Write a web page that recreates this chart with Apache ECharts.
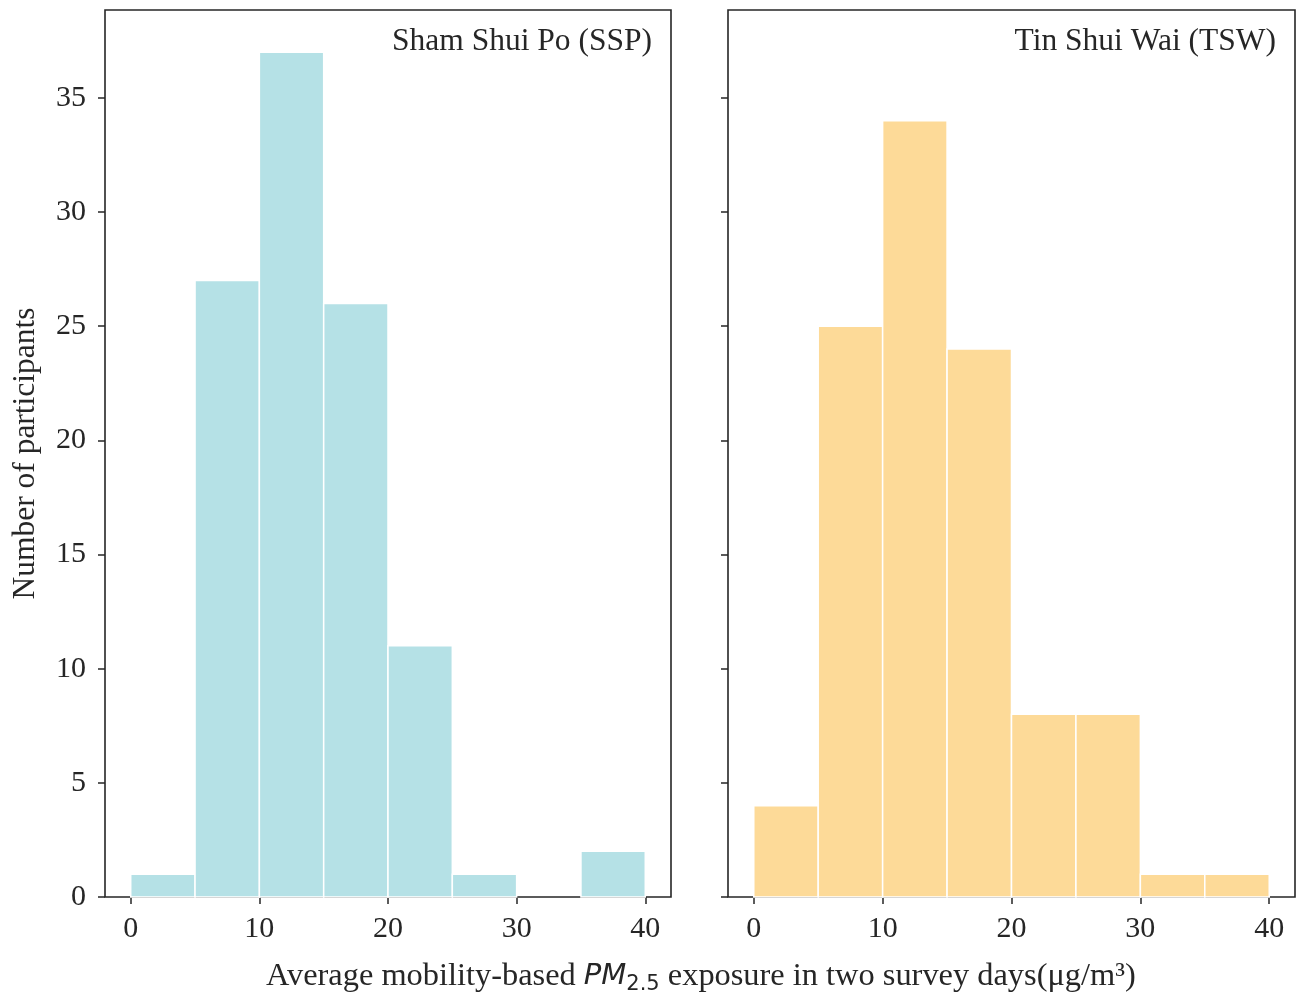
<!DOCTYPE html>
<html>
<head>
<meta charset="utf-8">
<style>
  html, body { margin: 0; padding: 0; background: #fff; }
  #chart { width: 1302px; height: 993px; }
</style>
<script src="https://cdn.jsdelivr.net/npm/echarts@6/dist/echarts.min.js"></script>
</head>
<body>
<div id="chart"></div>
<script>
// bin edges (5 units wide) and counts per panel
var binStarts = [0, 5, 10, 15, 20, 25, 30, 35];
var binWidth = 5;
var ssp = [1, 27, 37, 26, 11, 1, 0, 2];
var tsw = [4, 25, 34, 24, 8, 8, 1, 1];
var yTicks = [0, 5, 10, 15, 20, 25, 30, 35];
var xTicks = [0, 10, 20, 30, 40];
var panelNames = ['Sham Shui Po (SSP)', 'Tin Shui Wai (TSW)'];

var serif = '"Liberation Serif", "DejaVu Serif", serif';
var ink = '#262626';

var myChart = echarts.init(document.getElementById('chart'));

function histData(counts) {
    return counts.map(function (c, i) {
        return [binStarts[i], binStarts[i] + binWidth, c];
    });
}

function renderBar(params, api) {
    if (!api.value(2)) {
        return null;   // empty bin, nothing to draw
    }
    var p0 = api.coord([api.value(0), api.value(2)]);
    var p1 = api.coord([api.value(1), 0]);
    return {
        type: 'rect',
        shape: { x: p0[0], y: p0[1], width: p1[0] - p0[0], height: p1[1] - p0[1] },
        style: api.style({ stroke: '#ffffff', lineWidth: 1.5 })
    };
}

function xAxisFor(idx) {
    return {
        type: 'value',
        gridIndex: idx,
        min: -2,
        max: 42,
        splitLine: { show: false },
        axisLine: { show: false, onZero: false },
        axisTick: { show: true, length: 7, customValues: xTicks, lineStyle: { color: ink, width: 1.5 } },
        axisLabel: { customValues: xTicks, color: ink, fontFamily: serif, fontSize: 30, margin: 17 }
    };
}

function yAxisFor(idx) {
    return {
        type: 'value',
        gridIndex: idx,
        min: 0,
        max: 38.85,
        splitLine: { show: false },
        axisLine: { show: false, onZero: false },
        axisTick: { show: true, length: 7, customValues: yTicks, lineStyle: { color: ink, width: 1.5 } },
        axisLabel: {
            show: idx === 0,
            customValues: yTicks,
            color: ink, fontFamily: serif, fontSize: 30, margin: 19
        },
        name: idx === 0 ? 'Number of participants' : '',
        nameLocation: 'middle',
        nameGap: 63,
        nameTextStyle: { color: ink, fontFamily: serif, fontSize: 31.5 }
    };
}

var option = {
    animation: false,
    backgroundColor: '#ffffff',
    grid: [
        { left: 105, top: 10, width: 566, height: 887, show: true, borderColor: ink, borderWidth: 1.6, backgroundColor: 'transparent' },
        { left: 728, top: 10, width: 567, height: 887, show: true, borderColor: ink, borderWidth: 1.6, backgroundColor: 'transparent' }
    ],
    xAxis: [xAxisFor(0), xAxisFor(1)],
    yAxis: [yAxisFor(0), yAxisFor(1)],
    title: [
        {
            text: panelNames[0], right: 1302 - 652, top: 26,
            textStyle: { color: ink, fontFamily: serif, fontSize: 31.5, fontWeight: 'normal' }, padding: 0
        },
        {
            text: panelNames[1], right: 1302 - 1276, top: 26,
            textStyle: { color: ink, fontFamily: serif, fontSize: 31.5, fontWeight: 'normal' }, padding: 0
        }
    ],
    graphic: [{
        type: 'text',
        left: 266,
        top: 960,
        style: {
            text: '{a|Average mobility-based }{pm|PM}{sub|2.5}{a| exposure in two survey days(μg/m³)}',
            rich: {
                a: { fontFamily: serif, fontSize: 32.4, fill: ink, lineHeight: 38, verticalAlign: 'middle' },
                pm: { fontFamily: '"DejaVu Sans"', fontStyle: 'italic', fontSize: 29, fill: ink, lineHeight: 38, verticalAlign: 'middle' },
                sub: { fontFamily: '"DejaVu Sans"', fontSize: 21, fill: ink, lineHeight: 38, verticalAlign: 'bottom', padding: [14, 0, 0, 0] }
            }
        }
    }],
    series: [
        {
            type: 'custom', xAxisIndex: 0, yAxisIndex: 0,
            renderItem: renderBar,
            itemStyle: { color: '#b5e1e6' },
            encode: { x: [0, 1], y: 2 },
            data: histData(ssp)
        },
        {
            type: 'custom', xAxisIndex: 1, yAxisIndex: 1,
            renderItem: renderBar,
            itemStyle: { color: '#fdda98' },
            encode: { x: [0, 1], y: 2 },
            data: histData(tsw)
        }
    ]
};

window.addEventListener("resize", function () {
    myChart.resize();
});
myChart.setOption(option);
</script>
</body>
</html>
